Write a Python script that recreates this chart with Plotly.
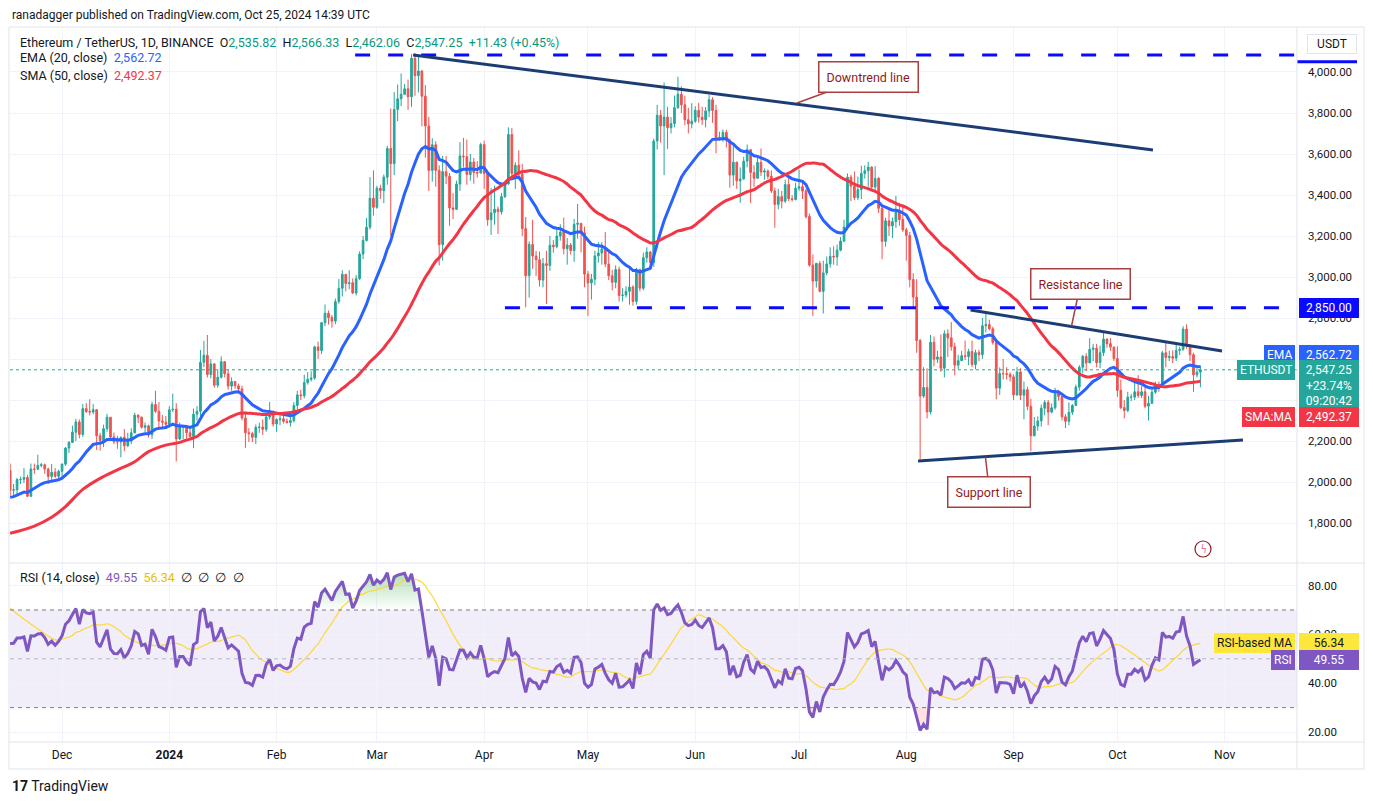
import pandas as pd
import plotly.graph_objects as go
from plotly.subplots import make_subplots

# ---------------- data (ETH/USDT daily) ----------------
dates = pd.date_range("2023-11-16", "2024-10-25", freq="D")
first_open = 2057

closes = [
    # Nov 16-30 2023
    1960, 1962, 2012, 2013, 2022, 1930, 2063, 2062, 2081, 2084, 2063, 2027, 2048, 2028, 2052,
    # Dec
    2087, 2166, 2193, 2243, 2293, 2232, 2358, 2344, 2341, 2353,
    2226, 2202, 2260, 2316, 2220, 2196, 2195, 2218, 2177, 2200,
    2240, 2326, 2316, 2267, 2274, 2230, 2378, 2345, 2298, 2292, 2282,
    # Jan 2024
    2352, 2355, 2210, 2268, 2268, 2240, 2222, 2331, 2345, 2584,
    2618, 2524, 2576, 2472, 2511, 2587, 2528, 2468, 2490, 2469,
    2454, 2312, 2240, 2236, 2218, 2267, 2268, 2257, 2317, 2343, 2283,
    # Feb
    2305, 2308, 2296, 2290, 2300, 2373, 2425, 2421, 2485, 2501,
    2507, 2659, 2641, 2777, 2823, 2802, 2785, 2880, 2945, 3013,
    2968, 2972, 2922, 2992, 3112, 3178, 3243, 3384, 3340,
    # Mar
    3433, 3421, 3487, 3627, 3553, 3817, 3869, 3891, 3918, 3879,
    4067, 3982, 4005, 3882, 3737, 3520, 3645, 3520, 3158, 3514,
    3492, 3337, 3330, 3454, 3590, 3587, 3500, 3561, 3510, 3507, 3646,
    # Apr
    3505, 3279, 3313, 3331, 3318, 3392, 3454, 3695, 3505, 3545,
    3502, 3236, 3006, 3159, 3102, 3084, 2985, 3065, 3056, 3155,
    3148, 3200, 3219, 3138, 3156, 3129, 3257, 3262, 3215, 3014,
    # May
    2971, 2989, 3103, 3117, 3137, 3063, 3006, 2974, 3036, 2910,
    2912, 2930, 2951, 2881, 3037, 2945, 3094, 3122, 3070, 3663,
    3789, 3737, 3780, 3728, 3748, 3826, 3892, 3840, 3767, 3747, 3760,
    # Jun
    3813, 3780, 3767, 3810, 3865, 3812, 3680, 3681, 3705, 3667,
    3497, 3560, 3469, 3478, 3565, 3621, 3510, 3482, 3559, 3512,
    3517, 3491, 3420, 3354, 3392, 3370, 3451, 3382, 3378, 3433,
    # Jul
    3440, 3419, 3295, 3058, 2980, 3066, 2930, 3020, 3064, 3101,
    3098, 3131, 3175, 3244, 3487, 3443, 3387, 3426, 3505, 3518,
    3536, 3439, 3481, 3335, 3174, 3274, 3249, 3270, 3318, 3280, 3230,
    # Aug
    3203, 2988, 2902, 2690, 2419, 2461, 2342, 2682, 2599, 2610,
    2555, 2723, 2703, 2660, 2570, 2592, 2616, 2612, 2636, 2573,
    2631, 2622, 2762, 2768, 2747, 2680, 2458, 2529, 2528, 2525, 2513,
    # Sep
    2425, 2537, 2423, 2450, 2369, 2226, 2273, 2298, 2360, 2388,
    2341, 2362, 2439, 2417, 2318, 2296, 2340, 2373, 2463, 2560,
    2613, 2581, 2647, 2653, 2582, 2631, 2697, 2675, 2658, 2602,
    # Oct 1-25
    2447, 2363, 2349, 2414, 2414, 2440, 2422, 2440, 2370, 2384,
    2438, 2476, 2466, 2630, 2607, 2612, 2604, 2642, 2647, 2746,
    2666, 2621, 2523, 2536, 2547.25,
]

highs = [
    2090, 1990, 2020, 2026, 2068, 2035, 2090, 2090, 2133, 2093, 2090, 2070, 2088, 2068, 2060,
    2090, 2170, 2200, 2275, 2308, 2305, 2380, 2385, 2404, 2380,
    2355, 2240, 2280, 2333, 2317, 2242, 2225, 2222, 2258, 2240,
    2262, 2338, 2330, 2320, 2290, 2280, 2392, 2445, 2390, 2327, 2322,
    2370, 2431, 2385, 2290, 2277, 2260, 2270, 2358, 2370, 2644,
    2689, 2717, 2600, 2580, 2550, 2613, 2590, 2548, 2510, 2485,
    2480, 2470, 2343, 2263, 2245, 2280, 2290, 2305, 2335, 2390, 2350,
    2310, 2325, 2330, 2310, 2335, 2390, 2445, 2450, 2523, 2536,
    2540, 2665, 2685, 2781, 2866, 2836, 2815, 2895, 2990, 3033,
    3014, 3033, 2993, 3010, 3125, 3200, 3288, 3487, 3520,
    3445, 3450, 3500, 3640, 3822, 3902, 3939, 3993, 3942, 3963,
    4087, 4093, 4084, 4010, 3936, 3781, 3677, 3662, 3545, 3591,
    3590, 3507, 3409, 3470, 3658, 3679, 3670, 3600, 3581, 3565, 3655,
    3665, 3510, 3435, 3445, 3344, 3410, 3459, 3730, 3727, 3560,
    3618, 3552, 3293, 3174, 3280, 3127, 3124, 3093, 3128, 3200,
    3180, 3230, 3257, 3290, 3190, 3166, 3283, 3356, 3258, 3246,
    3030, 3015, 3128, 3170, 3170, 3220, 3130, 3035, 3057, 3050,
    2945, 2955, 3045, 2960, 3045, 3040, 3119, 3145, 3127, 3675,
    3840, 3815, 3949, 3830, 3780, 3885, 3977, 3930, 3884, 3825, 3848,
    3833, 3850, 3830, 3829, 3888, 3877, 3840, 3709, 3720, 3718,
    3675, 3650, 3563, 3535, 3586, 3646, 3622, 3545, 3580, 3627,
    3530, 3525, 3520, 3436, 3430, 3420, 3475, 3491, 3400, 3460,
    3524, 3464, 3430, 3310, 3110, 3070, 3078, 3080, 3100, 3145,
    3150, 3158, 3195, 3280, 3505, 3498, 3515, 3490, 3543, 3545,
    3562, 3540, 3541, 3488, 3342, 3289, 3328, 3290, 3396, 3360, 3350,
    3240, 3220, 3018, 2990, 2698, 2560, 2555, 2717, 2710, 2640,
    2720, 2740, 2745, 2780, 2680, 2620, 2640, 2690, 2650, 2690,
    2645, 2645, 2800, 2820, 2792, 2758, 2690, 2559, 2600, 2560, 2535,
    2525, 2560, 2555, 2490, 2465, 2407, 2317, 2320, 2378, 2400,
    2400, 2383, 2460, 2450, 2422, 2331, 2388, 2380, 2475, 2570,
    2620, 2629, 2702, 2674, 2673, 2665, 2728, 2700, 2702, 2660,
    2662, 2500, 2400, 2440, 2430, 2485, 2521, 2470, 2467, 2420,
    2460, 2490, 2490, 2640, 2688, 2640, 2642, 2675, 2660, 2760,
    2769, 2673, 2630, 2555, 2566.33,
]

lows = [
    1932, 1931, 1935, 1990, 1995, 1930, 1930, 2040, 2061, 2072, 2040, 1990, 2005, 2020, 2017,
    2021, 2080, 2141, 2192, 2200, 2213, 2220, 2337, 2325, 2330,
    2156, 2153, 2170, 2245, 2210, 2185, 2162, 2120, 2150, 2170,
    2185, 2237, 2287, 2260, 2243, 2217, 2210, 2337, 2256, 2270, 2266,
    2265, 2341, 2100, 2205, 2210, 2212, 2210, 2165, 2300, 2320,
    2560, 2510, 2505, 2460, 2460, 2505, 2510, 2450, 2445, 2455,
    2440, 2300, 2167, 2195, 2195, 2185, 2240, 2230, 2245, 2305, 2270,
    2245, 2277, 2285, 2285, 2270, 2290, 2355, 2400, 2408, 2475,
    2490, 2499, 2600, 2625, 2760, 2768, 2753, 2770, 2870, 2905,
    2930, 2940, 2917, 2910, 2985, 3087, 3173, 3232, 3300,
    3333, 3380, 3360, 3450, 3200, 3497, 3761, 3833, 3890, 3815,
    3830, 3884, 3900, 3735, 3582, 3420, 3465, 3440, 3056, 3080,
    3453, 3250, 3282, 3330, 3420, 3537, 3450, 3470, 3455, 3485, 3505,
    3430, 3250, 3205, 3255, 3210, 3304, 3385, 3450, 3485, 3430,
    3480, 3200, 2852, 2900, 3040, 3005, 2953, 2950, 2868, 3030,
    3118, 3140, 3177, 3110, 3060, 3110, 3074, 3187, 3120, 2950,
    2810, 2890, 2960, 3070, 3060, 3048, 2985, 2935, 2945, 2880,
    2880, 2900, 2865, 2860, 2865, 2930, 2935, 3070, 3050, 3050,
    3622, 3655, 3497, 3625, 3700, 3730, 3820, 3800, 3740, 3700, 3725,
    3752, 3753, 3742, 3730, 3780, 3752, 3603, 3665, 3660, 3632,
    3435, 3445, 3430, 3362, 3475, 3535, 3360, 3440, 3478, 3493,
    3475, 3478, 3410, 3240, 3330, 3335, 3362, 3370, 3368, 3373,
    3420, 3380, 3285, 3050, 2810, 2948, 2925, 2822, 3008, 3045,
    3060, 3055, 3125, 3170, 3230, 3370, 3375, 3375, 3380, 3480,
    3440, 3424, 3423, 3312, 3087, 3148, 3200, 3190, 3240, 3250, 3220,
    3080, 2950, 2850, 2630, 2111, 2410, 2310, 2330, 2565, 2580,
    2538, 2510, 2610, 2640, 2520, 2550, 2590, 2595, 2570, 2560,
    2550, 2590, 2600, 2730, 2740, 2670, 2403, 2425, 2500, 2500, 2490,
    2400, 2420, 2400, 2306, 2350, 2150, 2222, 2250, 2270, 2325,
    2277, 2335, 2353, 2397, 2300, 2263, 2277, 2327, 2370, 2445,
    2531, 2541, 2580, 2590, 2560, 2555, 2615, 2655, 2640, 2590,
    2415, 2355, 2310, 2340, 2395, 2400, 2410, 2410, 2360, 2300,
    2380, 2430, 2440, 2460, 2560, 2590, 2580, 2590, 2620, 2640,
    2650, 2590, 2440, 2510, 2462.06,
]

# indicator start values read at the left edge of the chart
ema_start = 1925
sma_head_dates = ["2023-11-16", "2023-11-23", "2023-11-28", "2023-12-02", "2023-12-07",
                  "2023-12-12", "2023-12-17", "2023-12-22", "2023-12-26", "2023-12-31"]
sma_head_values = [1750, 1785, 1828, 1880, 1964, 2018, 2059, 2099, 2148, 2180]
rsi_seed_gain, rsi_seed_loss = 45, 35
rsi_ma_head_dates = ["2023-11-16", "2023-11-19", "2023-11-23", "2023-11-27"]
rsi_ma_head_values = [70.8, 67.3, 63.2, 59.3]

month_ticks = ["2023-12-01", "2024-01-01", "2024-02-01", "2024-03-01", "2024-04-01", "2024-05-01",
               "2024-06-01", "2024-07-01", "2024-08-01", "2024-09-01", "2024-10-01", "2024-11-01"]
month_text = ["Dec", "<b>2024</b>", "Feb", "Mar", "Apr", "May", "Jun", "Jul", "Aug", "Sep", "Oct", "Nov"]
price_ticks = list(range(1800, 4001, 200))
rsi_ticks = [20, 40, 60, 80]

assert len(closes) == len(highs) == len(lows) == len(dates)

# ---------------- indicators ----------------
n = len(closes)
opens = [first_open] + closes[:-1]
highs = [max(h, o, c) for h, o, c in zip(highs, opens, closes)]
lows = [min(l, o, c) for l, o, c in zip(lows, opens, closes)]

k = 2 / 21
ema = [ema_start]
for c in closes[1:]:
    ema.append(ema[-1] + k * (c - ema[-1]))

sma_x = [pd.Timestamp(d) for d in sma_head_dates] + list(dates[49:])
sma_y = sma_head_values + [sum(closes[i - 49:i + 1]) / 50 for i in range(49, n)]

ag, al = rsi_seed_gain, rsi_seed_loss
rsi = [100 - 100 / (1 + ag / al)]
for i in range(1, n):
    ch = closes[i] - closes[i - 1]
    ag = (ag * 13 + max(ch, 0)) / 14
    al = (al * 13 + max(-ch, 0)) / 14
    rsi.append(100 - 100 / (1 + ag / al))

rsi_ma_x = [pd.Timestamp(d) for d in rsi_ma_head_dates] + list(dates[13:])
rsi_ma_y = rsi_ma_head_values + [sum(rsi[i - 13:i + 1]) / 14 for i in range(13, n)]

# ---------------- figure ----------------
FONT = "Roboto"
TXT = "#131722"
GRID = "#F0F3FA"
BORDER = "#E0E3EB"
UP, DOWN = "#26A69A", "#EF5350"
X_RANGE = ["2023-11-15 23:00", "2024-11-21 22:00"]
PAGE_OFFSET = 8  # the page body margin pushes the figure 8px right and down


def px_x(px):
    return (px - 10) / 1287


def px_y(py):
    return (742 - py) / 714


fig = make_subplots(rows=2, cols=1, shared_xaxes=True, vertical_spacing=0.003)

fig.add_trace(go.Candlestick(
    x=dates, open=opens, high=highs, low=lows, close=closes,
    increasing=dict(line=dict(color=UP, width=1), fillcolor=UP),
    decreasing=dict(line=dict(color=DOWN, width=1), fillcolor=DOWN),
    hoverinfo="skip"), row=1, col=1)
fig.add_trace(go.Scatter(x=dates, y=ema, mode="lines", line=dict(color="#2962FF", width=3)), row=1, col=1)
fig.add_trace(go.Scatter(x=sma_x, y=sma_y, mode="lines", line=dict(color="#F23645", width=3, shape="spline")),
              row=1, col=1)

# RSI pane
ob = [max(v, 70) for v in rsi]
os_ = [min(v, 30) for v in rsi]
fig.add_trace(go.Scatter(x=dates, y=[70] * n, mode="lines", line=dict(width=0)), row=2, col=1)
fig.add_trace(go.Scatter(x=dates, y=ob, mode="lines", line=dict(width=0), fill="tonexty",
                         fillgradient=dict(type="vertical", start=70, stop=88,
                                           colorscale=[[0, "rgba(76,175,80,0)"], [1, "rgba(76,175,80,0.5)"]])),
              row=2, col=1)
fig.add_trace(go.Scatter(x=dates, y=[30] * n, mode="lines", line=dict(width=0)), row=2, col=1)
fig.add_trace(go.Scatter(x=dates, y=os_, mode="lines", line=dict(width=0), fill="tonexty",
                         fillcolor="rgba(242,54,69,0.15)"), row=2, col=1)
fig.add_trace(go.Scatter(x=rsi_ma_x, y=rsi_ma_y, mode="lines", line=dict(color="#FDD835", width=1.2, shape="spline")),
              row=2, col=1)
fig.add_trace(go.Scatter(x=dates, y=rsi, mode="lines", line=dict(color="#7E57C2", width=3)), row=2, col=1)

# ---------------- drawings ----------------
NAVY = "#1C3D73"
BLUE = "#0A0AFF"
shapes = [
    # RSI band and levels
    dict(type="rect", xref="x2 domain", yref="y2", x0=0, x1=1, y0=30, y1=70,
         fillcolor="rgba(126,87,194,0.1)", line_width=0, layer="below"),
    dict(type="line", xref="x2 domain", yref="y2", x0=0, x1=1, y0=70, y1=70,
         line=dict(color="#787B86", width=1, dash="4px,4px")),
    dict(type="line", xref="x2 domain", yref="y2", x0=0, x1=1, y0=50, y1=50,
         line=dict(color="#B2B5BE", width=1, dash="4px,4px")),
    dict(type="line", xref="x2 domain", yref="y2", x0=0, x1=1, y0=30, y1=30,
         line=dict(color="#787B86", width=1, dash="4px,4px")),
    # horizontal levels
    dict(type="line", xref="x", yref="y", x0="2024-02-23 17:00", x1=X_RANGE[1], y0=4083, y1=4083,
         line=dict(color=BLUE, width=3, dash="15px,18px")),
    dict(type="line", xref="x", yref="y", x0="2024-04-07", x1=X_RANGE[1], y0=2850, y1=2850,
         line=dict(color=BLUE, width=3, dash="15px,18px")),
    dict(type="line", xref="paper", yref="y", x0=1.0, x1=px_x(1357), y0=4050, y1=4050,
         line=dict(color=BLUE, width=3)),
    # trend lines
    dict(type="line", xref="x", yref="y", x0="2024-03-11 10:48", y0=4083, x1="2024-10-11 07:00", y1=3620,
         line=dict(color=NAVY, width=3)),
    dict(type="line", xref="x", yref="y", x0="2024-08-19 13:30", y0=2839, x1="2024-10-31 06:00", y1=2639,
         line=dict(color=NAVY, width=3)),
    dict(type="line", xref="x", yref="y", x0="2024-08-04 09:36", y0=2102, x1="2024-11-06 07:00", y1=2205,
         line=dict(color=NAVY, width=3)),
    # last price line
    dict(type="line", xref="x domain", yref="y", x0=0, x1=1, y0=2547.25, y1=2547.25,
         line=dict(color=UP, width=1, dash="dot")),
    # small alert icon
    dict(type="circle", xref="paper", yref="paper", x0=px_x(1195), x1=px_x(1211), y0=px_y(557), y1=px_y(541),
         line=dict(color="#8E1B1B", width=1.2), fillcolor="white"),
    # frame
    dict(type="rect", xref="paper", yref="paper", x0=px_x(9), x1=px_x(1364), y0=px_y(769), y1=px_y(27),
         line=dict(color=BORDER, width=1)),
    dict(type="line", xref="paper", yref="paper", x0=1, x1=1, y0=px_y(769), y1=px_y(27),
         line=dict(color=BORDER, width=1)),
    dict(type="line", xref="paper", yref="paper", x0=px_x(9), x1=px_x(1364), y0=0, y1=0,
         line=dict(color=BORDER, width=1)),
    dict(type="line", xref="paper", yref="paper", x0=px_x(9), x1=px_x(1364), y0=px_y(563), y1=px_y(563),
         line=dict(color=BORDER, width=1)),
]

anns = []


def text(t, x, y, size=12.5, color=TXT, xanchor="left"):
    anns.append(dict(text=t, x=x, y=y, xref="paper", yref="paper", showarrow=False,
                     xanchor=xanchor, yanchor="middle", font=dict(family=FONT, size=size, color=color)))


def tag(t, x, y, bg, yref="y", fg="white", xanchor="left", width=None, yshift=0, yanchor="middle", border=None):
    anns.append(dict(text=t, x=x, y=y, xref="paper", yref=yref, showarrow=False, xanchor=xanchor,
                     yanchor=yanchor, yshift=yshift, bgcolor=bg, bordercolor=border or bg, borderwidth=1,
                     borderpad=2, width=width, align="center",
                     font=dict(family=FONT, size=12, color=fg)))


def callout(t, x, y, ax, ay):
    anns.append(dict(text=t, x=x, y=y, xref="x", yref="y", ax=ax, ay=ay, showarrow=True, arrowhead=0,
                     arrowwidth=1.5, arrowcolor="#A8403F", bgcolor="white", bordercolor="#A8403F",
                     borderwidth=1.5, borderpad=7, font=dict(family=FONT, size=12.5, color="#8E1B1B")))


teal = "#089981"
text("ranadagger published on TradingView.com, Oct 25, 2024 14:39 UTC", px_x(10), px_y(15), size=12)
text("Ethereum / TetherUS, 1D, BINANCE  "
     f"O<span style='color:{teal}'>2,535.82</span>  H<span style='color:{teal}'>2,566.33</span>  "
     f"L<span style='color:{teal}'>2,462.06</span>  C<span style='color:{teal}'>2,547.25</span>  "
     f"<span style='color:{teal}'>+11.43 (+0.45%)</span>", px_x(18), px_y(42))
text("EMA (20, close)  <span style='color:#2962FF'>2,562.72</span>", px_x(18), px_y(58))
text("SMA (50, close)  <span style='color:#F23645'>2,492.37</span>", px_x(18), px_y(75))
text("RSI (14, close)  <span style='color:#7E57C2'>49.55</span>  <span style='color:#E5C100'>56.34</span>  "
     "∅  ∅  ∅  ∅", px_x(18), px_y(577))

callout("Downtrend line", "2024-06-30 10:00", 3849, 71, -26)
callout("Resistance line", "2024-09-17 18:00", 2761, 9, -42)
callout("Support line", "2024-08-23 21:00", 2122, 4, 35)

text("ϟ", px_x(1203), px_y(549), size=12, color="#C2185B", xanchor="center")

# price scale tags
tag("USDT", px_x(1332), px_y(44), "white", yref="paper", fg=TXT, xanchor="center", width=44, border=BORDER)
tag("2,850.00", px_x(1299), 2850, BLUE, width=54)
tag("EMA", px_x(1295), 2562.72, "#2962FF", xanchor="right", yshift=12)
tag("2,562.72", px_x(1299), 2562.72, "#2962FF", width=54, yshift=12)
tag("ETHUSDT", px_x(1295), 2547.25, UP, xanchor="right")
tag("2,547.25<br>+23.74%<br>09:20:42", px_x(1299), 2547.25, UP, width=54, yanchor="top", yshift=10)
tag("SMA:MA", px_x(1295), 2492.37, "#F23645", xanchor="right", yshift=-36)
tag("2,492.37", px_x(1299), 2492.37, "#F23645", width=54, yshift=-36)
tag("RSI-based MA", px_x(1295), 56.34, "#FDE73A", yref="y2", fg=TXT, xanchor="right")
tag("56.34", px_x(1299), 56.34, "#FDE73A", yref="y2", fg=TXT, width=54)
tag("RSI", px_x(1295), 49.55, "#7E57C2", yref="y2", xanchor="right")
tag("49.55", px_x(1299), 49.55, "#7E57C2", yref="y2", width=54)

text("<b>17</b> TradingView", px_x(10), px_y(786), size=14)

fig.update_layout(
    width=1373 - PAGE_OFFSET, height=804 - PAGE_OFFSET,
    margin=dict(l=10 - PAGE_OFFSET, r=76, t=28 - PAGE_OFFSET, b=62),
    paper_bgcolor="white", plot_bgcolor="white", showlegend=False,
    font=dict(family=FONT, size=12, color=TXT),
    shapes=shapes, annotations=anns, hovermode=False,
    xaxis=dict(rangeslider=dict(visible=False), range=X_RANGE, tickvals=month_ticks,
               showticklabels=False, showgrid=True, gridcolor=GRID, ticks="", zeroline=False),
    xaxis2=dict(range=X_RANGE, tickvals=month_ticks, ticktext=month_text, showgrid=True, gridcolor=GRID,
                ticks="", ticklabelstandoff=4, tickfont=dict(size=12, color=TXT), zeroline=False),
    yaxis=dict(domain=[px_y(562), 1], range=[1609.8, 4214.6], side="right", tickvals=price_ticks,
               tickformat=",.2f", showgrid=True, gridcolor=GRID, ticks="", ticklabelstandoff=10,
               tickfont=dict(size=11.5, color=TXT), zeroline=False),
    yaxis2=dict(domain=[0, px_y(564)], range=[15.9, 88.85], side="right", tickvals=rsi_ticks,
                tickformat=".2f", showgrid=True, gridcolor=GRID, ticks="", ticklabelstandoff=10,
                tickfont=dict(size=11.5, color=TXT), zeroline=False),
)

fig.write_html("out.html")
